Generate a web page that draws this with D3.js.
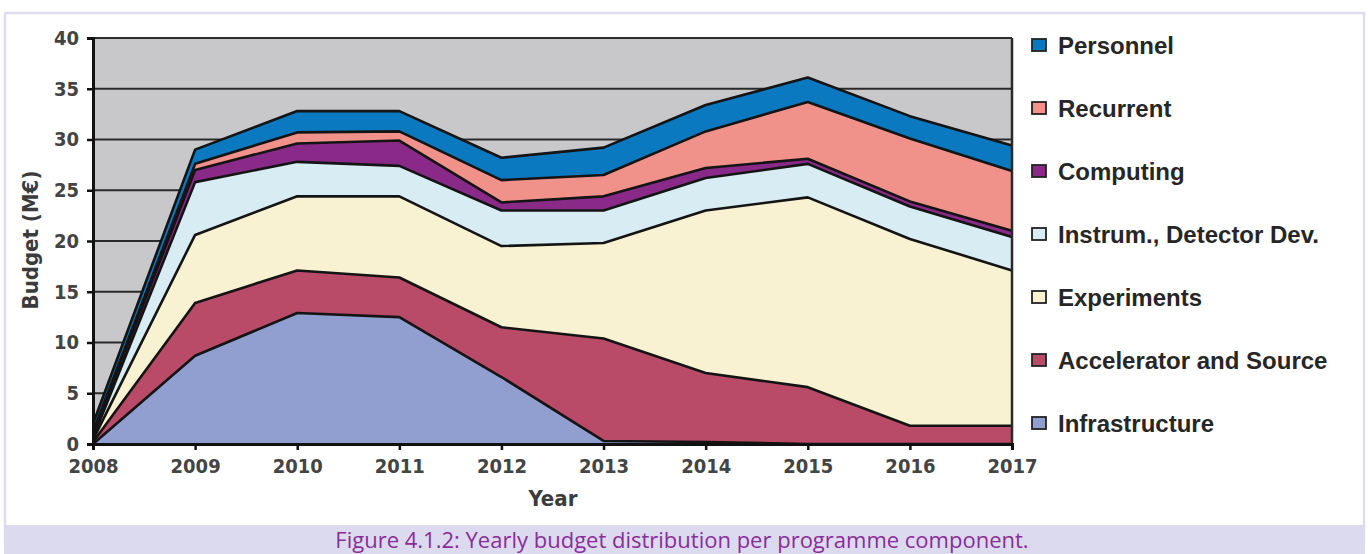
<!DOCTYPE html>
<html>
<head>
<meta charset="utf-8">
<script src="https://cdn.jsdelivr.net/npm/d3@7"></script>
<style>
  html, body { margin: 0; padding: 0; background: #ffffff; }
  svg { display: block; }
</style>
</head>
<body>
<svg id="chart" width="1368" height="554"></svg>
<script>
// ---- data (M€ per year) ----
const years = [2008, 2009, 2010, 2011, 2012, 2013, 2014, 2015, 2016, 2017];
const infrastructure = [0.0, 8.7, 12.9, 12.5, 6.6, 0.3, 0.2, 0.0, 0.0, 0.0];
const accelerator    = [0.2, 5.2, 4.2, 3.9, 4.9, 10.1, 6.8, 5.6, 1.8, 1.8];
const experiments    = [0.2, 6.7, 7.3, 8.0, 8.0, 9.4, 16.0, 18.7, 18.4, 15.3];
const instrumentation= [0.2, 5.2, 3.4, 3.0, 3.5, 3.2, 3.2, 3.3, 3.2, 3.3];
const computing      = [0.3, 1.2, 1.8, 2.5, 0.8, 1.4, 1.0, 0.5, 0.5, 0.6];
const recurrent      = [0.3, 0.6, 1.1, 0.9, 2.2, 2.1, 3.6, 5.6, 6.2, 5.9];
const personnel      = [0.8, 1.4, 2.1, 2.0, 2.2, 2.7, 2.6, 2.4, 2.2, 2.5];

const seriesNames = ["Infrastructure", "Accelerator and Source", "Experiments",
  "Instrum., Detector Dev.", "Computing", "Recurrent", "Personnel"];
const seriesColors = ["#909fd0", "#b94a68", "#f8f2d2", "#d7edf3", "#8a2a88", "#f1928a", "#0a79c0"];
const yTicks = [0, 5, 10, 15, 20, 25, 30, 35, 40];
const caption = "Figure 4.1.2: Yearly budget distribution per programme component.";

// ---- build table ----
const seriesData = [infrastructure, accelerator, experiments, instrumentation, computing, recurrent, personnel];
const table = years.map((y, i) => {
  const row = { year: y };
  seriesNames.forEach((n, k) => row[n] = seriesData[k][i]);
  return row;
});

const svg = d3.select("#chart");
const narrow = "'Liberation Sans Narrow', 'Arial Narrow', 'DejaVu Sans Condensed', 'Noto Sans', sans-serif";

// outer frame + caption band
svg.append("rect").attr("x", 5).attr("y", 13).attr("width", 1359).attr("height", 530)
  .attr("fill", "#ffffff").attr("stroke", "#dedcef").attr("stroke-width", 2.5);
svg.append("rect").attr("x", 4).attr("y", 525).attr("width", 1361).attr("height", 29)
  .attr("fill", "#dcdaee");
svg.append("text").attr("x", 682).attr("y", 548).attr("text-anchor", "middle")
  .attr("font-family", "'Open Sans', 'Noto Sans', sans-serif").attr("font-size", 22)
  .attr("fill", "#8b2c9b").text(caption);

const x = d3.scaleLinear().domain([2008, 2017]).range([93, 1012]);
const y = d3.scaleLinear().domain([0, 40]).range([444, 38]);

// plot background
svg.append("rect").attr("x", x(2008)).attr("y", y(40))
  .attr("width", x(2017) - x(2008)).attr("height", y(0) - y(40))
  .attr("fill", "#c8c8ca");

// grid lines
svg.append("g").selectAll("line").data(yTicks.filter(t => t > 0)).join("line")
  .attr("x1", x(2008)).attr("x2", x(2017))
  .attr("y1", d => y(d)).attr("y2", d => y(d))
  .attr("stroke", "#2a2a2a").attr("stroke-width", 2);

// stacked areas
const stack = d3.stack().keys(seriesNames);
const layers = stack(table);
const area = d3.area().x(d => x(d.data.year)).y0(d => y(d[0])).y1(d => y(d[1]));
const topLine = d3.line().x(d => x(d.data.year)).y(d => y(d[1]));

svg.append("g").selectAll("path").data(layers).join("path")
  .attr("d", area).attr("fill", (d, i) => seriesColors[i]);
svg.append("g").selectAll("path").data(layers).join("path")
  .attr("d", topLine).attr("fill", "none")
  .attr("stroke", "#141414").attr("stroke-width", 2.6).attr("stroke-linejoin", "round");

// right border
svg.append("line").attr("x1", x(2017)).attr("x2", x(2017)).attr("y1", y(40)).attr("y2", y(0))
  .attr("stroke", "#2a2a2a").attr("stroke-width", 2.5);

// axes
const yAxis = d3.axisLeft(y).tickValues(yTicks).tickSize(6).tickPadding(8).tickFormat(d3.format("d"));
const gy = svg.append("g").attr("transform", `translate(${x(2008)},0)`).call(yAxis);
const xAxis = d3.axisBottom(x).tickValues(years).tickSize(6).tickPadding(9).tickFormat(d3.format("d"));
const gx = svg.append("g").attr("transform", `translate(0,${y(0)})`).call(xAxis);
[gy, gx].forEach(g => {
  g.select(".domain").attr("stroke", "#111").attr("stroke-width", 3);
  g.selectAll(".tick line").attr("stroke", "#111").attr("stroke-width", 2.5);
  g.selectAll(".tick text").attr("font-family", narrow).attr("font-size", 20)
    .attr("font-weight", 600).attr("fill", "#444");
});
gx.selectAll(".tick text").attr("dy", "0.71em");

// axis titles
svg.append("text").attr("x", 553).attr("y", 506).attr("text-anchor", "middle")
  .attr("font-family", narrow).attr("font-size", 22).attr("font-weight", 600)
  .attr("fill", "#3b3b3b").text("Year");
svg.append("text").attr("transform", "translate(38,240) rotate(-90)").attr("text-anchor", "middle")
  .attr("font-family", narrow).attr("font-size", 22).attr("font-weight", 600)
  .attr("fill", "#3b3b3b").text("Budget (M€)");

// legend (top to bottom: Personnel ... Infrastructure)
const legendOrder = d3.range(seriesNames.length).reverse();
const lg = svg.append("g").selectAll("g").data(legendOrder).join("g")
  .attr("transform", (d, i) => `translate(1032,${45 + i * 63})`);
lg.append("rect").attr("x", 0).attr("y", -6).attr("width", 14).attr("height", 12)
  .attr("fill", d => seriesColors[d]).attr("stroke", "#222").attr("stroke-width", 1.8);
lg.append("text").attr("x", 26).attr("y", 0).attr("dy", "0.36em")
  .attr("font-family", "'Liberation Sans', Arial, sans-serif").attr("font-size", 24)
  .attr("font-weight", "bold").attr("fill", "#262626").text(d => seriesNames[d]);
</script>
</body>
</html>
